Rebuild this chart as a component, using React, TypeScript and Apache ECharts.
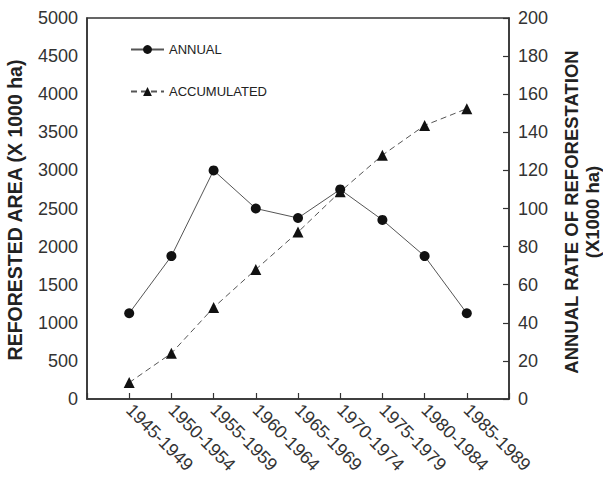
import React, { useEffect, useRef } from "react";
import * as echarts from "echarts";

const periods = [
  "1945-1949",
  "1950-1954",
  "1955-1959",
  "1960-1964",
  "1965-1969",
  "1970-1974",
  "1975-1979",
  "1980-1984",
  "1985-1989",
];
// Annual rate of reforestation (x1000 ha), right axis
const annualRate = [45, 75, 120, 100, 95, 110, 94, 75, 45];
// Accumulated reforested area (x1000 ha), left axis
const accumulatedArea = [215, 600, 1200, 1700, 2190, 2720, 3200, 3590, 3810];

const leftTitle = "REFORESTED AREA (X 1000 ha)";
const rightTitle1 = "ANNUAL RATE OF REFORESTATION";
const rightTitle2 = "(X1000 ha)";

const FONT = "'Liberation Sans', Arial, Helvetica, sans-serif";

export default function App() {
  const ref = useRef<HTMLDivElement>(null);
  useEffect(() => {
    document.body.style.margin = "0";
    if (!ref.current) return;
    const chart = echarts.init(ref.current, undefined, { renderer: "svg" });
    const axisColor = "#333";
    const titleStyle = (text: string, size: number) => ({
      text,
      fontFamily: FONT,
      fontSize: size,
      fontWeight: "bold",
      fill: "#222",
      align: "center",
      verticalAlign: "middle",
    });
    chart.setOption({
      animation: false,
      backgroundColor: "#fff",
      textStyle: { fontFamily: FONT },
      grid: {
        left: 87,
        right: 94,
        top: 18,
        bottom: 80,
        containLabel: false,
        outerBoundsMode: "none",
        show: true,
        borderColor: axisColor,
        borderWidth: 1.5,
        backgroundColor: "transparent",
      },
      legend: {
        data: ["ANNUAL", "ACCUMULATED"],
        orient: "vertical",
        left: 125,
        top: 38,
        itemWidth: 33,
        itemHeight: 11,
        itemGap: 29,
        textStyle: {
          fontFamily: FONT,
          fontSize: 13,
          color: "#222",
        },
      },
      graphic: [
        {
          type: "text",
          x: 15,
          y: 210,
          rotation: Math.PI / 2,
          style: titleStyle(leftTitle, 19.5),
        },
        {
          type: "text",
          x: 571,
          y: 212,
          rotation: Math.PI / 2,
          style: titleStyle(rightTitle1, 18.5),
        },
        {
          type: "text",
          x: 592,
          y: 212,
          rotation: Math.PI / 2,
          style: titleStyle(rightTitle2, 18.5),
        },
      ],
      xAxis: {
        type: "value",
        min: 0,
        max: 10,
        interval: 1,
        splitLine: { show: false },
        axisLine: { show: true, lineStyle: { color: axisColor, width: 1.5 } },
        axisTick: { show: true, inside: true, length: 6, lineStyle: { color: axisColor, width: 1.2 } },
        axisLabel: {
          rotate: -45,
          margin: 8,
          fontSize: 18,
          color: "#333",
          fontFamily: FONT,
          formatter: (v: number) => {
            const i = Math.round(v) - 1;
            return i >= 0 && i < periods.length ? periods[i] : "";
          },
        },
      },
      yAxis: [
        {
          type: "value",
          min: 0,
          max: 5000,
          interval: 500,
          position: "left",
          splitLine: { show: false },
          axisLine: { show: true, lineStyle: { color: axisColor, width: 1.5 } },
          axisTick: { show: false },
          axisLabel: {
            margin: 9,
            fontSize: 18,
            color: "#333",
            fontFamily: FONT,
            formatter: (v: number) => String(v),
          },
        },
        {
          type: "value",
          min: 0,
          max: 200,
          interval: 20,
          position: "right",
          splitLine: { show: false },
          axisLine: { show: true, lineStyle: { color: axisColor, width: 1.5 } },
          axisTick: { show: true, inside: true, length: 6, lineStyle: { color: axisColor, width: 1.2 } },
          axisLabel: {
            margin: 9,
            fontSize: 18,
            color: "#333",
            fontFamily: FONT,
            formatter: (v: number) => String(v),
          },
        },
      ],
      series: [
        {
          name: "ACCUMULATED",
          type: "line",
          yAxisIndex: 0,
          data: accumulatedArea.map((v, i) => [i + 1, v]),
          symbol: "triangle",
          symbolSize: 11,
          itemStyle: { color: "#111" },
          lineStyle: { color: "#555", width: 1, type: [6, 4] },
        },
        {
          name: "ANNUAL",
          type: "line",
          yAxisIndex: 1,
          data: annualRate.map((v, i) => [i + 1, v]),
          symbol: "circle",
          symbolSize: 10,
          itemStyle: { color: "#111" },
          lineStyle: { color: "#555", width: 1 },
        },
      ],
    });
    return () => chart.dispose();
  }, []);
  return <div ref={ref} style={{ width: 603, height: 479 }} />;
}
